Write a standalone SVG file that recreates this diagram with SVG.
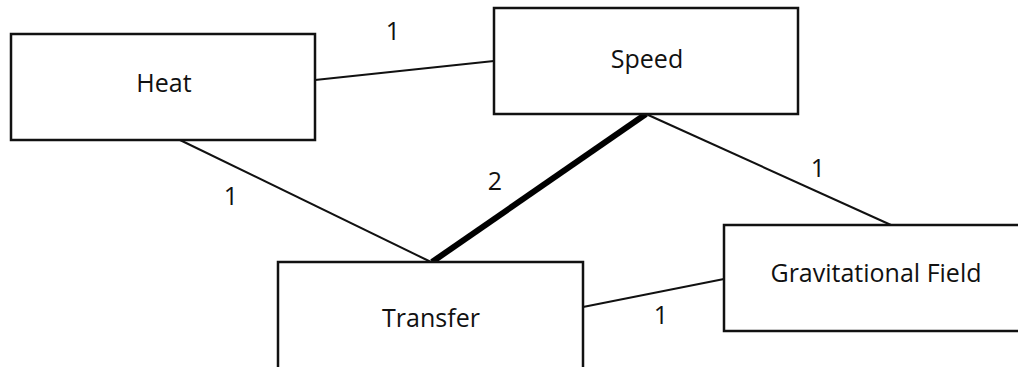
<svg xmlns="http://www.w3.org/2000/svg" width="1018" height="367" viewBox="0 0 1018 367">
<style>
.box{fill:#fff;stroke:#111;stroke-width:2.5}
.lbl{font-family:"Open Sans","DejaVu Sans",sans-serif;font-size:25px;fill:#111;text-anchor:middle}
.edge{stroke:#111;stroke-width:2;fill:none}
.thick{stroke:#000;stroke-width:6;fill:none}
</style>
<rect width="1018" height="367" fill="#fff"/>
<g id="connectors">
<line class="edge" x1="315" y1="80" x2="494" y2="61"/>
<line class="edge" x1="180" y1="140" x2="431" y2="262"/>
<line class="thick" x1="646" y1="114" x2="432" y2="262"/>
<line class="edge" x1="646" y1="114" x2="891" y2="225"/>
<line class="edge" x1="583" y1="307" x2="724" y2="279"/>
<text class="lbl" x="393" y="40">1</text>
<text class="lbl" x="231" y="205">1</text>
<text class="lbl" x="495" y="190">2</text>
<text class="lbl" x="818" y="177">1</text>
<text class="lbl" x="661" y="324">1</text>
</g>
<g id="heat">
<rect class="box" x="11" y="34" width="304" height="106"/>
<text class="lbl" x="164" y="92">Heat</text>
</g>
<g id="speed">
<rect class="box" x="494" y="8" width="304" height="106"/>
<text class="lbl" x="647" y="68">Speed</text>
</g>
<g id="transfer">
<rect class="box" x="278" y="262" width="305" height="120"/>
<text class="lbl" x="431" y="327">Transfer</text>
</g>
<g id="gravitational-field">
<rect class="box" x="724" y="225" width="340" height="106"/>
<text class="lbl" x="876" y="282">Gravitational Field</text>
</g>
</svg>
